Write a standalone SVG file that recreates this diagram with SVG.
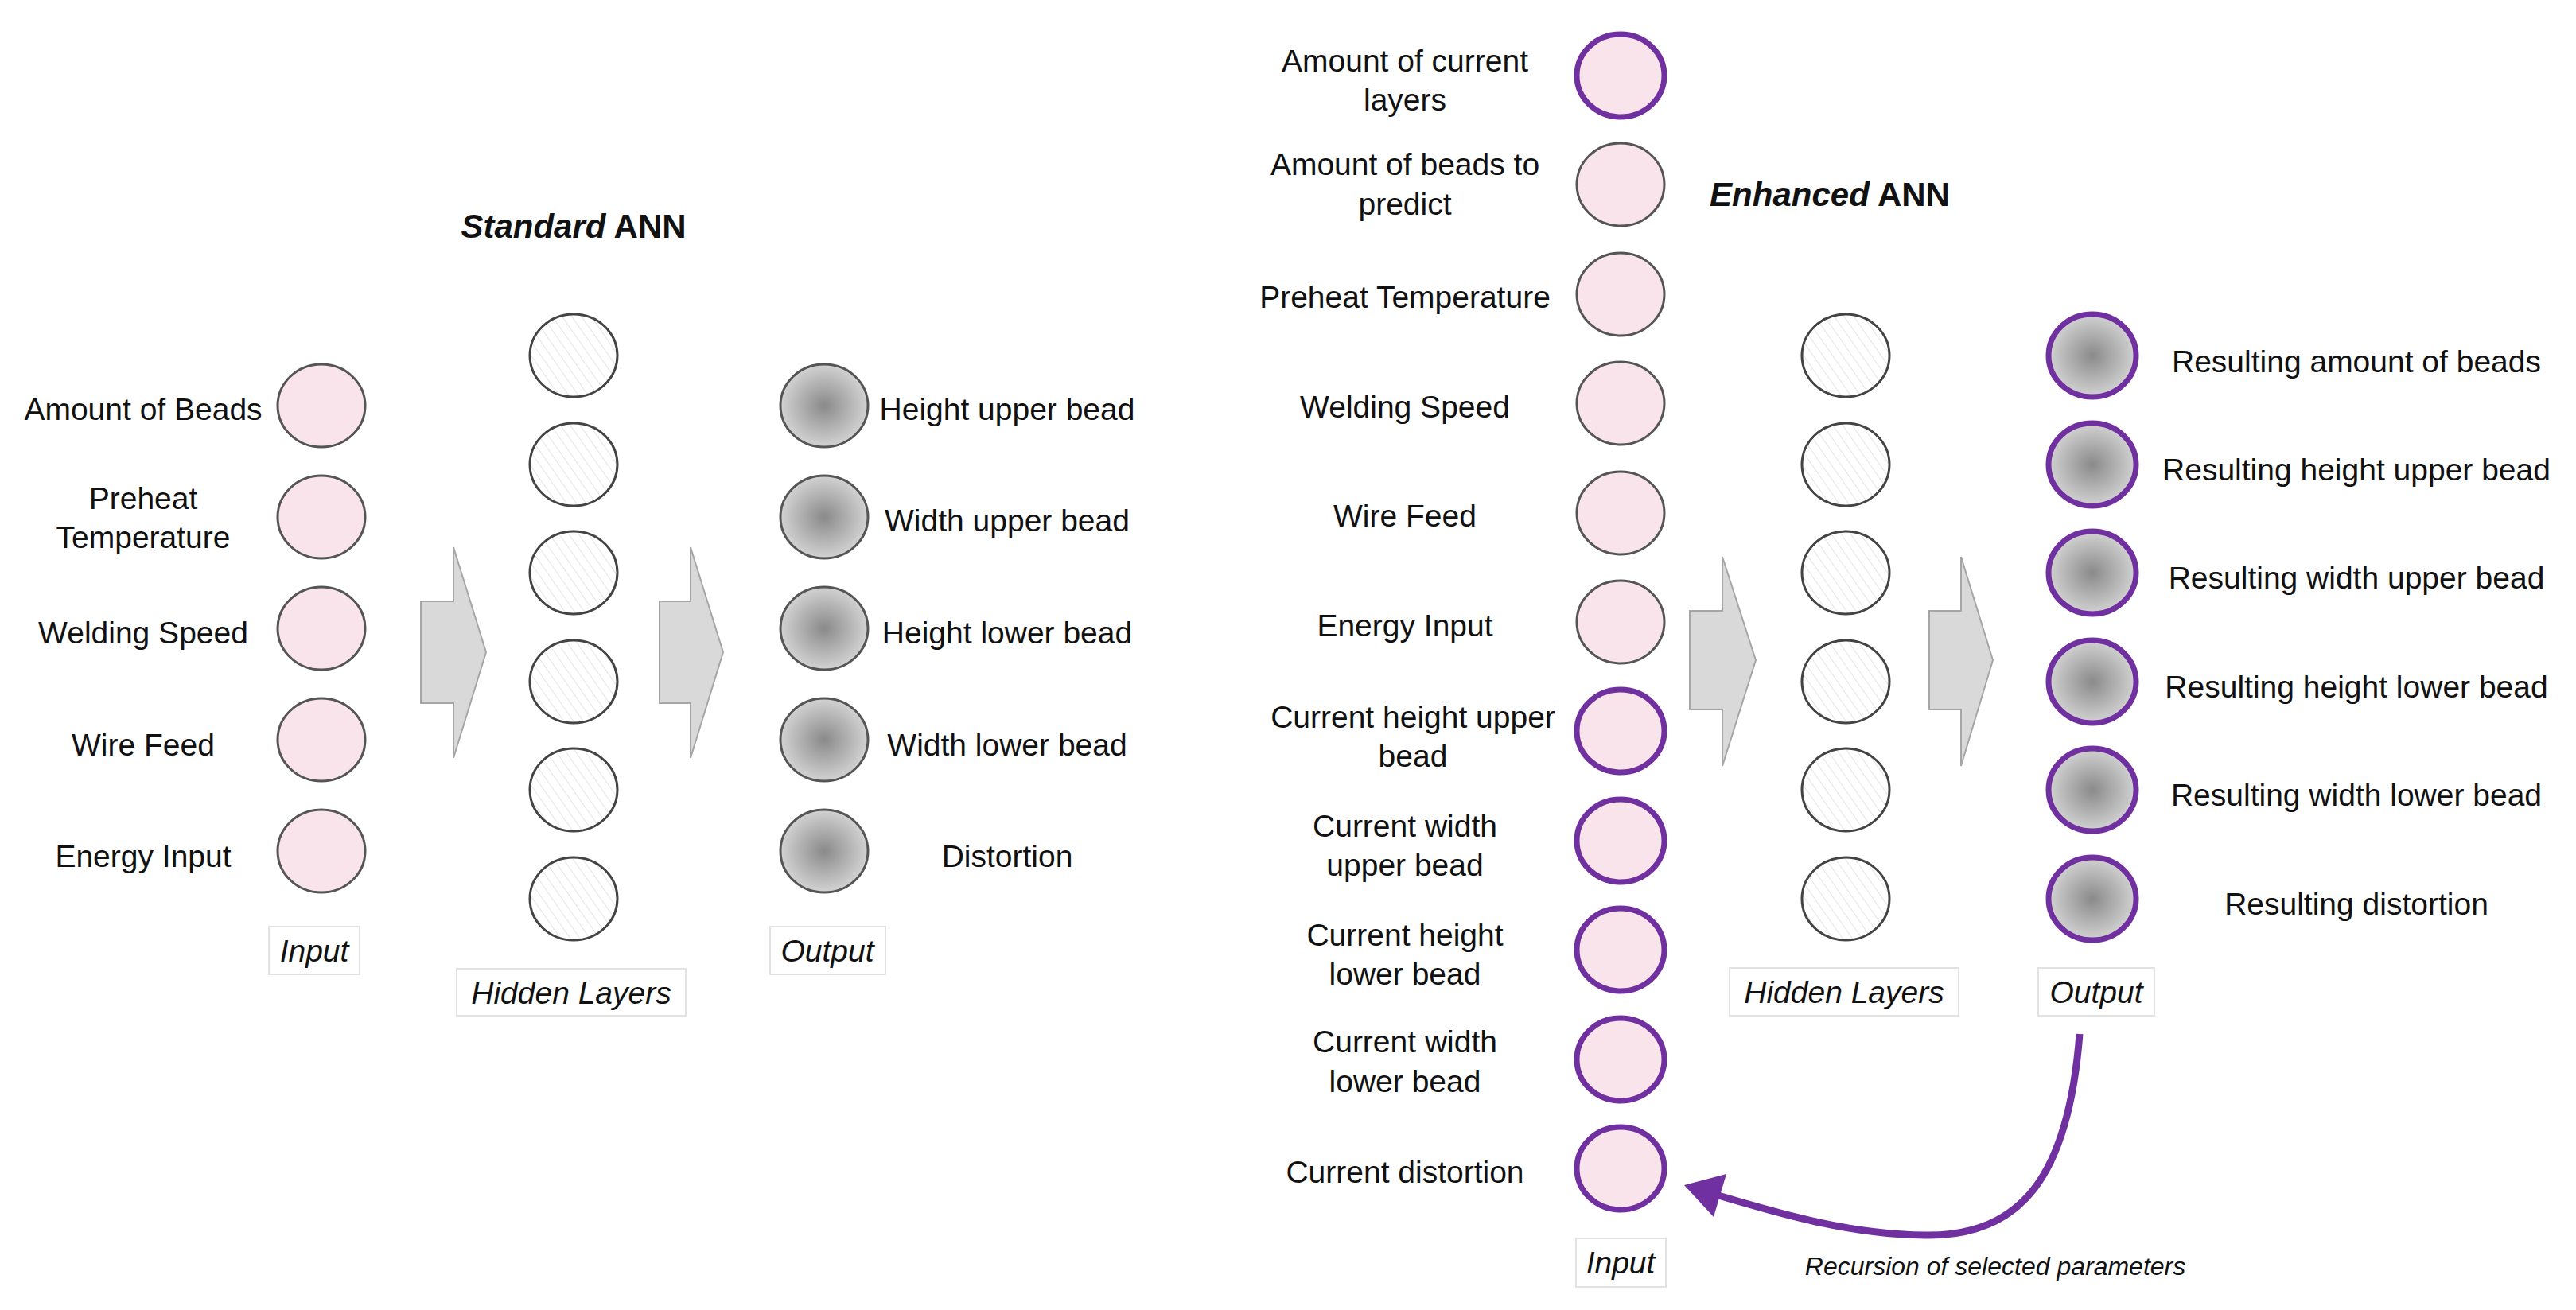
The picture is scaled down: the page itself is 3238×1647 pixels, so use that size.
<svg xmlns="http://www.w3.org/2000/svg" width="3238" height="1647" viewBox="0 0 3238 1647">
<style>
text{font-family:"Liberation Sans",Arial,sans-serif;font-size:39px;fill:#111;text-anchor:middle}
.t{font-size:42px;font-weight:bold}
.i{font-style:italic}
.in{fill:#f8e4ea;stroke:#555;stroke-width:3}
.inp{fill:#f8e4ea;stroke:#7030a0;stroke-width:7}
.hid{fill:url(#hatch);stroke:#444;stroke-width:3}
.out{fill:url(#grad);stroke:#555;stroke-width:3}
.outp{fill:url(#grad);stroke:#7030a0;stroke-width:7}
.box{fill:#fff;stroke:#e2e2e2;stroke-width:2}
.arr{fill:#d9d9d9;stroke:#a6a6a6;stroke-width:2}
</style>
<defs>
<pattern id="hatch" width="10" height="10" patternUnits="userSpaceOnUse" patternTransform="rotate(-35)">
<rect width="10" height="10" fill="#fff"/><line x1="0" y1="0" x2="0" y2="10" stroke="#e4e4e4" stroke-width="2"/>
</pattern>
<radialGradient id="grad"><stop offset="0" stop-color="#8a8a8a"/><stop offset="1" stop-color="#d2d2d2"/></radialGradient>
</defs>
<rect width="3238" height="1647" fill="#fff"/>
<g id="standard">
<text class="t" x="721" y="299"><tspan font-style="italic">Standard</tspan> ANN</text>
<polygon class="arr" points="529,756 570,756 570,688 611,820 570,953 570,884 529,884"/>
<polygon class="arr" points="829,756 868,756 868,688 909,820 868,953 868,884 829,884"/>
<g id="s-in1"><ellipse class="in" cx="404" cy="510" rx="55" ry="52"/><text x="180" y="528">Amount of Beads</text></g>
<g id="s-in2"><ellipse class="in" cx="404" cy="650" rx="55" ry="52"/><text x="180" y="640">Preheat</text><text x="180" y="689">Temperature</text></g>
<g id="s-in3"><ellipse class="in" cx="404" cy="790" rx="55" ry="52"/><text x="180" y="809">Welding Speed</text></g>
<g id="s-in4"><ellipse class="in" cx="404" cy="930" rx="55" ry="52"/><text x="180" y="950">Wire Feed</text></g>
<g id="s-in5"><ellipse class="in" cx="404" cy="1070" rx="55" ry="52"/><text x="180" y="1090">Energy Input</text></g>
<g id="s-hid">
<ellipse class="hid" cx="721" cy="447" rx="55" ry="52"/>
<ellipse class="hid" cx="721" cy="584" rx="55" ry="52"/>
<ellipse class="hid" cx="721" cy="720" rx="55" ry="52"/>
<ellipse class="hid" cx="721" cy="857" rx="55" ry="52"/>
<ellipse class="hid" cx="721" cy="993" rx="55" ry="52"/>
<ellipse class="hid" cx="721" cy="1130" rx="55" ry="52"/>
</g>
<g id="s-out1"><ellipse class="out" cx="1036" cy="510" rx="55" ry="52"/><text x="1266" y="528">Height upper bead</text></g>
<g id="s-out2"><ellipse class="out" cx="1036" cy="650" rx="55" ry="52"/><text x="1266" y="668">Width upper bead</text></g>
<g id="s-out3"><ellipse class="out" cx="1036" cy="790" rx="55" ry="52"/><text x="1266" y="809">Height lower bead</text></g>
<g id="s-out4"><ellipse class="out" cx="1036" cy="930" rx="55" ry="52"/><text x="1266" y="950">Width lower bead</text></g>
<g id="s-out5"><ellipse class="out" cx="1036" cy="1070" rx="55" ry="52"/><text x="1266" y="1090">Distortion</text></g>
<g id="s-lab-in"><rect class="box" x="338" y="1165" width="114" height="60"/><text class="i" x="395" y="1209">Input</text></g>
<g id="s-lab-hid"><rect class="box" x="574" y="1218" width="288" height="59"/><text class="i" x="718" y="1262">Hidden Layers</text></g>
<g id="s-lab-out"><rect class="box" x="968" y="1165" width="145" height="60"/><text class="i" x="1040" y="1209">Output</text></g>
</g>
<g id="enhanced">
<text class="t" x="2300" y="259"><tspan font-style="italic">Enhanced</tspan> ANN</text>
<polygon class="arr" points="2124,768 2165,768 2165,700 2207,830 2165,963 2165,892 2124,892"/>
<polygon class="arr" points="2425,768 2465,768 2465,700 2505,830 2465,963 2465,892 2425,892"/>
<g id="e-in1"><ellipse class="inp" cx="2037" cy="95" rx="55" ry="52"/><text x="1766" y="90">Amount of current</text><text x="1766" y="139">layers</text></g>
<g id="e-in2"><ellipse class="in" cx="2037" cy="232" rx="55" ry="52"/><text x="1766" y="220">Amount of beads to</text><text x="1766" y="270">predict</text></g>
<g id="e-in3"><ellipse class="in" cx="2037" cy="370" rx="55" ry="52"/><text x="1766" y="387">Preheat Temperature</text></g>
<g id="e-in4"><ellipse class="in" cx="2037" cy="507" rx="55" ry="52"/><text x="1766" y="525">Welding Speed</text></g>
<g id="e-in5"><ellipse class="in" cx="2037" cy="645" rx="55" ry="52"/><text x="1766" y="662">Wire Feed</text></g>
<g id="e-in6"><ellipse class="in" cx="2037" cy="782" rx="55" ry="52"/><text x="1766" y="800">Energy Input</text></g>
<g id="e-in7"><ellipse class="inp" cx="2037" cy="919" rx="55" ry="52"/><text x="1776" y="915">Current height upper</text><text x="1776" y="964">bead</text></g>
<g id="e-in8"><ellipse class="inp" cx="2037" cy="1057" rx="55" ry="52"/><text x="1766" y="1052">Current width</text><text x="1766" y="1101">upper bead</text></g>
<g id="e-in9"><ellipse class="inp" cx="2037" cy="1194" rx="55" ry="52"/><text x="1766" y="1189">Current height</text><text x="1766" y="1238">lower bead</text></g>
<g id="e-in10"><ellipse class="inp" cx="2037" cy="1332" rx="55" ry="52"/><text x="1766" y="1323">Current width</text><text x="1766" y="1373">lower bead</text></g>
<g id="e-in11"><ellipse class="inp" cx="2037" cy="1469" rx="55" ry="52"/><text x="1766" y="1487">Current distortion</text></g>
<g id="e-hid">
<ellipse class="hid" cx="2320" cy="447" rx="55" ry="52"/>
<ellipse class="hid" cx="2320" cy="584" rx="55" ry="52"/>
<ellipse class="hid" cx="2320" cy="720" rx="55" ry="52"/>
<ellipse class="hid" cx="2320" cy="857" rx="55" ry="52"/>
<ellipse class="hid" cx="2320" cy="993" rx="55" ry="52"/>
<ellipse class="hid" cx="2320" cy="1130" rx="55" ry="52"/>
</g>
<g id="e-out1"><ellipse class="outp" cx="2630" cy="447" rx="55" ry="52"/><text x="2962" y="468">Resulting amount of beads</text></g>
<g id="e-out2"><ellipse class="outp" cx="2630" cy="584" rx="55" ry="52"/><text x="2962" y="604">Resulting height upper bead</text></g>
<g id="e-out3"><ellipse class="outp" cx="2630" cy="720" rx="55" ry="52"/><text x="2962" y="740">Resulting width upper bead</text></g>
<g id="e-out4"><ellipse class="outp" cx="2630" cy="857" rx="55" ry="52"/><text x="2962" y="877">Resulting height lower bead</text></g>
<g id="e-out5"><ellipse class="outp" cx="2630" cy="993" rx="55" ry="52"/><text x="2962" y="1013">Resulting width lower bead</text></g>
<g id="e-out6"><ellipse class="outp" cx="2630" cy="1130" rx="55" ry="52"/><text x="2962" y="1150">Resulting distortion</text></g>
<g id="e-lab-hid"><rect class="box" x="2174" y="1217" width="288" height="60"/><text class="i" x="2318" y="1261">Hidden Layers</text></g>
<g id="e-lab-out"><rect class="box" x="2562" y="1217" width="146" height="60"/><text class="i" x="2635" y="1261">Output</text></g>
<g id="e-lab-in"><rect class="box" x="1981" y="1557" width="113" height="61"/><text class="i" x="2037" y="1601">Input</text></g>
<text class="i" x="2508" y="1603" style="font-size:32px">Recursion of selected parameters</text>
</g>
<g id="connectors">
<path d="M2614,1300 C2600,1480 2540,1555 2420,1553 C2330,1552 2250,1530 2150,1500" fill="none" stroke="#7030a0" stroke-width="9"/>
<polygon points="2117,1490 2170,1476 2154,1530" fill="#7030a0"/>
</g>
</svg>
